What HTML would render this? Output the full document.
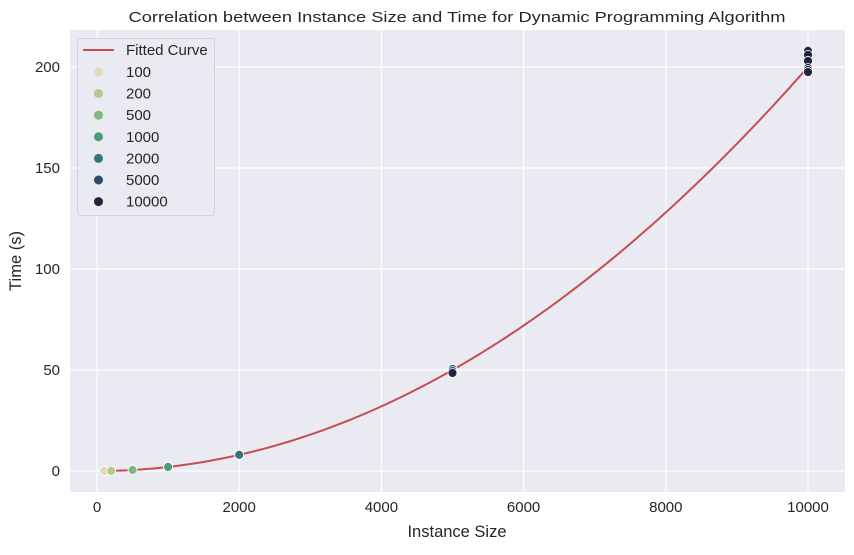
<!DOCTYPE html>
<html><head><meta charset="utf-8"><style>
body{margin:0;background:#fff;font-family:"Liberation Sans",Arial,sans-serif;}
svg text{font-family:"Liberation Sans",Arial,sans-serif;fill:#262626;}
</style></head><body>
<svg id="chart" width="854" height="550" xmlns="http://www.w3.org/2000/svg">
<rect x="70" y="30" width="775" height="462" fill="#eaeaf2"/>
<g id="grid"></g><g id="curve"></g><g id="pts"></g><g id="ticks"></g>
<text x="457" y="22" font-size="15" text-anchor="middle" textLength="657" lengthAdjust="spacingAndGlyphs">Correlation between Instance Size and Time for Dynamic Programming Algorithm</text>
<text x="457" y="537" font-size="16.5" text-anchor="middle">Instance Size</text>
<text x="21" y="261" font-size="16.5" text-anchor="middle" transform="rotate(-90 21 261)">Time (s)</text>
<g id="legend"></g>
</svg>
<script>
const sizes=[100,200,500,1000,2000,5000,10000];
const colors=["#e3d8b8","#b5c98e","#7fb67c","#4f9a78","#37747a","#2e4a6e","#232340"];
const ptX=[100,100,200,200,500,500,1000,1000,2000,2000,5000,5000,5000,10000,10000,10000,10000,10000,10000];
const ptY=[0.02,0.02,0.08,0.08,0.5,0.5,2.0,2.0,7.8,8.0,50.5,49.5,48.5,208,206,203,199.5,198.5,197.5];
const ptGroup=[0,0,1,1,2,2,3,3,4,4,5,5,6,6,6,6,6,6,6];
const fitCoef=[2.0e-6];
const xTicks=[0,2000,4000,6000,8000,10000];
const yTicks=[0,50,100,150,200];
const X=v=>97+v*(808-97)/10000;
const Y=v=>471-v*(471-67)/200;
const NS="http://www.w3.org/2000/svg";
function mk(p,t,a){const e=document.createElementNS(NS,t);for(const k in a)e.setAttribute(k,a[k]);p.appendChild(e);return e;}
const grid=document.getElementById('grid'),ticks=document.getElementById('ticks');
xTicks.forEach(t=>{
 const l=mk(grid,'line',{x1:X(t),x2:X(t),y1:30,y2:492,stroke:'#fff','stroke-width':1.2});
 
 
 const tx=mk(ticks,'text',{x:X(t),y:512,'font-size':15,'text-anchor':'middle'});tx.textContent=t;
 
 
});
yTicks.forEach(t=>{
 const l=mk(grid,'line',{x1:70,x2:845,y1:Y(t),y2:Y(t),stroke:'#fff','stroke-width':1.2});
 
 
 const tx=mk(ticks,'text',{x:60,y:Y(t)+5,'font-size':15,'text-anchor':'end'});tx.textContent=t;
 
 
});
let d='';
for(let i=0;i<=100;i++){const x=100+i*(9900/100);d+=(i?'L':'M')+X(x).toFixed(2)+','+Y(fitCoef[0]*x*x).toFixed(2);}
const c=mk(document.getElementById('curve'),'path',{d:d,fill:'none',stroke:'#c44e52','stroke-width':2});


const pts=document.getElementById('pts');
ptX.forEach((x,i)=>{
 const p=mk(pts,'circle',{cx:X(x),cy:Y(ptY[i]),r:4.5,fill:colors[ptGroup[i]],stroke:'#fff','stroke-width':0.8});
 
 
});
const lg=document.getElementById('legend');
mk(lg,'rect',{x:77.5,y:38.5,width:137,height:177,rx:3,fill:'#eaeaf2',stroke:'#d0d0d8','stroke-width':1,opacity:0.9});
mk(lg,'line',{x1:83,x2:114,y1:50,y2:50,stroke:'#c44e52','stroke-width':2});
const lt=mk(lg,'text',{x:126,y:55,'font-size':15});lt.textContent='Fitted Curve';


sizes.forEach((s,i)=>{
 const yy=72+i*21.6;
 mk(lg,'circle',{cx:98.5,cy:yy,r:4.5,fill:colors[i]});
 const t=mk(lg,'text',{x:126,y:yy+5,'font-size':15});t.textContent=s;
 
 
});
</script>
</body></html>
